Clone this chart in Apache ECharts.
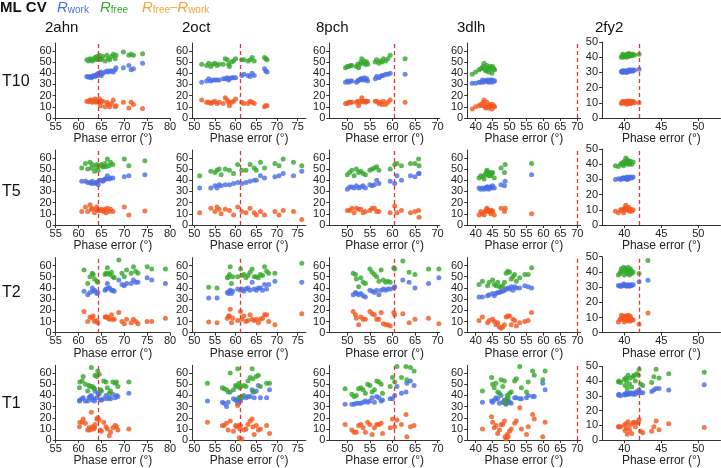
<!DOCTYPE html>
<html><head><meta charset="utf-8">
<script src="https://cdn.jsdelivr.net/npm/echarts@6/dist/echarts.min.js"></script>
<style>html,body{margin:0;padding:0;background:#fff}#c{width:721px;height:468px}</style>
</head><body><div id="c"></div><script>
// ---------- data ----------
const columns = ['2ahn', '2oct', '8pch', '3dlh', '2fy2'];
const rows = ['T10', 'T5', 'T2', 'T1'];
const xTickLabels = [[55,60,65,70,75,80],[50,55,60,65,70,75],[50,55,60,65,70],[40,45,50,55,60,65,70],[40,45,50]];
const xRanges = [[55,80],[49.5,77],[46,70.5],[37.5,71],[37,53]];
const yTickMain = [0,10,20,30,40,50,60];
const yTickFy2 = [0,10,20,30,40,50];
const refLine = [64.2, 61.2, 60.3, 70, 42];
// each point: [phase error, Rwork, Rfree, Rfree-Rwork]
const t10_2ahn = [[61.8,37,52,15],[62.2,36.5,51,14.5],[62.5,37,53,16],[62.8,36,52,16],[63.0,37,51,14],[63.3,38,53,15],[63.6,37,54,17],[63.8,38,52,14],[64.0,39,55,16],[64.2,38,53,15],[64.4,40,54,14],[64.6,39,56,17],[64.8,41,52,11],[65.0,38,53,15],[65.3,40,55,15],[65.8,41,51,10],[66.2,42,56,14],[66.5,41,53,12],[66.8,42,52,10],[67.2,42,55,13],[67.6,41,57,16],[68.0,43,53,10],[68.2,45,56,11],[69.8,45,59,14],[71.0,47,56,9],[71.5,43,57,14],[72.0,44,56,12],[74.0,49,57.5,8.5]];
const t10_2oct = [[51.8,32,48,16],[53.0,33,47,14],[53.5,35,49,14],[54.0,33,46,13],[54.5,34,48,14],[55.0,34,49,15],[55.5,34,47,13],[56.0,34,48,14],[57.0,35,48,13],[57.5,35,53,18],[58.0,36,52,16],[58.3,34,48,14],[58.5,35,46,11],[59.0,36,50,14],[59.5,36,51,15],[60.0,36,53,17],[61.5,38,52,14],[62.0,39,52,13],[63.0,38,51,13],[63.5,37,52,15],[64.0,40,54,14],[64.5,38,51,13],[67.0,44,54,10],[67.3,42,53,11],[67.6,41,52,11]];
const t10_8pch = [[49.6,32,45,13],[50.0,33,46,13],[50.3,32,46,14],[50.7,33,47,14],[51.0,33,47,14],[52.0,32,46,14],[52.3,33,48,15],[52.5,34,45,11],[52.8,34,48,14],[53.0,35,50,15],[53.2,35,53,18],[53.5,34,49,15],[53.8,36,51,15],[54.0,34,48,14],[54.3,35,50,15],[54.5,33,48,15],[56.2,35,50,15],[56.5,37,52,15],[57.0,36,49,13],[57.3,37,51,14],[57.7,38,50,12],[58.0,38,53,15],[58.5,39,51,12],[59.0,39,53,14],[59.5,40,56,16],[62.8,39,53,14]];
const t10_3dlh = [[39.0,31,39,8],[40.0,31,41,10],[41.0,32,43,11],[41.5,32,44,12],[42.0,34,45,11],[42.2,32,46,14],[42.5,33,49,16],[42.8,33,43,10],[43.0,33,42,9],[43.3,33,47,14],[43.5,34,45,11],[43.8,32,41,9],[44.0,33,43,10],[44.3,34,46,12],[44.6,33,44,11],[44.8,32,40,8],[45.0,34,46,12],[45.3,33,44,11],[45.6,33,43,10]];
const t10_2fy2 = [[39.6,30.5,40,9.5],[39.7,31,41,10],[39.8,30,40,10],[39.8,31,42,11],[39.9,31,41.5,10.5],[40.0,30.5,40.5,10],[40.1,31,41,10],[40.2,30.5,41,10.5],[40.3,31,40,9],[40.3,30,41,11],[40.4,31,42,11],[40.5,30.5,41.5,11],[40.6,31,40.5,9.5],[40.6,31.5,42.5,11],[40.7,31,42,11],[40.8,31.5,41,9.5],[40.9,31,42,11],[41.0,31,41,10],[41.1,31.5,41.5,10],[41.2,31,42,11],[41.4,31.5,41.5,10],[42.0,32,42,10]];
const t5_2ahn = [[60.7,39,51,12],[61.5,39,55,16],[62.0,38,50,12],[62.5,38,56,18],[62.8,37,51,14],[63.0,39,54,15],[63.5,37,48,11],[63.8,38,52,14],[64.0,38,54,16],[64.3,36,49,13],[64.5,40,53,13],[65.0,40,54,14],[65.3,39,52,13],[65.5,40,52,12],[65.8,41,55,14],[66.0,41,52,11],[66.3,44,59,15],[66.7,41,53,12],[67.0,42,56,14],[67.5,42,54,12],[70.0,43,59,16],[71.0,44,53,9],[74.5,45,57.5,12.5]];
const t5_2oct = [[51.3,33,44,11],[54.0,33,48,15],[55.0,35,47,12],[55.5,33,49,16],[56.0,36,50,14],[56.5,35,45,10],[57.5,36,50,14],[58.5,36,49,13],[59.5,37,46,9],[60.5,38,54,16],[61.5,37,49,12],[62.5,38,49,11],[63.5,39,54,15],[64.5,40,51,11],[65.0,40,49,9],[66.0,44,56,12],[67.0,42,51,9],[69.5,43,55,12],[70.5,44,53,9],[71.5,46,59,13],[74.0,44,56,12],[76.0,48,53,5]];
const t5_8pch = [[50.0,32,45,13],[50.5,34,47,13],[51.0,34,49,15],[51.5,33,44,11],[52.0,35,50,15],[52.5,33,47,14],[53.0,34,48,14],[53.5,35,46,11],[54.0,33,45,12],[55.0,36,49,13],[55.5,35,50,15],[56.0,36,51,15],[56.5,40,52,12],[57.0,37,49,12],[59.5,39,50,11],[60.5,37,54,17],[61.0,44,55,11],[62.0,40,53,13],[64.0,44,55,11],[65.0,43,55,12],[65.8,46,59,13],[65.9,46,53,7]];
const t5_3dlh = [[41.0,33,42,9],[41.5,32,44,12],[42.0,33,43,10],[42.5,32,41,9],[42.8,33,45,12],[43.0,33,46,13],[43.3,34,49,15],[43.5,34,48,14],[43.8,32,44,12],[44.0,33,45,12],[44.3,34,47,13],[44.5,34,44,10],[44.8,33,46,13],[45.0,35,47,12],[45.5,33,42,9],[47.5,36,51,15],[48.5,35,47,12],[48.7,39,54,15],[56.5,45,55,10]];
const t5_2fy2 = [[38.8,30,39,9],[39.2,30.5,38.5,8],[39.5,30,40,10],[39.7,31,41,10],[39.8,30.5,40,9.5],[39.9,31,39,8],[40.0,31,42,11],[40.1,30.5,41,10.5],[40.2,31,44,13],[40.3,31,41,10],[40.4,31.5,43,11.5],[40.4,30,40,10],[40.5,31,41,10],[40.6,30.5,42,11.5],[40.7,31,40,9],[40.8,31.5,42,10.5],[41.0,31,40,9],[41.2,31.5,41.5,10]];
const t2_2ahn = [[61.2,37,56,19],[62.0,34,44,10],[62.5,36,50,14],[63.0,40,53,13],[63.2,37,52,15],[63.5,38,48,10],[64.0,35,46,11],[64.2,36,45,9],[65.8,38,52,14],[66.0,39,53,14],[66.3,44,58,14],[66.5,40,53,13],[66.8,40,52,12],[67.2,38,54,16],[67.5,38,50,12],[67.8,37,49,12],[68.8,47,65,18],[69.5,43,53,10],[70.0,42,50,8],[70.5,44,56,12],[71.5,44,53,9],[72.0,47,59,12],[72.5,45,55,10],[73.0,45,53,8],[75.0,49,59,10],[76.0,47,57,10],[79.0,44,57,13]];
const t2_2oct = [[53.5,31,40.5,9.5],[55.5,31,40,9],[58.0,36,49,13],[58.3,35,50,15],[58.5,37,52,15],[58.7,38,59,21],[59.0,35,44,9],[59.3,37,50,13],[60.5,39,50,11],[61.2,38,57,19],[61.5,39,51,12],[62.0,37,52,15],[62.5,39,49,10],[63.0,40,51,11],[63.5,38,54,16],[64.0,45,57,12],[64.5,39,50,11],[65.0,38,50,12],[65.5,40,49,9],[66.0,40,52,12],[66.5,38,51,13],[67.0,43,59,16],[67.5,39,55,16],[68.0,43,53,10],[69.5,46,53,7],[76.0,45,62,17]];
const t2_8pch = [[51.3,34,53,19],[51.8,36,52,16],[52.0,35,48,13],[52.5,34,41,7],[53.0,35,49,14],[53.5,33,45,12],[54.0,32,44,12],[55.0,38,57,19],[55.5,37,54,17],[56.0,36,52,16],[56.5,38,50,12],[57.0,34,46,12],[57.5,38,56,18],[58.0,39,47,8],[58.5,38,45,7],[59.0,39,46,7],[59.5,39,45,6],[60.3,40,58,18],[60.5,41,57,16],[62.3,47,64,17],[63.7,45,54,9],[65.0,40,52,12],[68.0,44,57,13],[70.3,49,57,8]];
const t2_3dlh = [[41.0,32,43,11],[42.0,32,46,14],[43.5,33,42,9],[44.0,34,45,11],[45.0,35,47,12],[45.5,33,43,10],[46.0,35,42,7],[46.5,36,45,9],[47.0,36,41,5],[47.5,37,41,4],[48.0,37,42,5],[48.5,38,45,7],[49.0,39,53,14],[49.5,40,55,15],[50.0,39,54,15],[50.5,41,48,7],[51.0,38,50,12],[51.5,41,52,11],[52.0,40,46,6],[53.0,40,49,9],[54.5,42,52,10],[55.5,41,52,11],[56.5,40,58,18]];
const t2_2fy2 = [[39.2,31,38,7],[39.4,30.5,39,8.5],[39.5,31,40,9],[39.6,30.5,42,11.5],[39.8,31,41,10],[39.9,32,43,11],[40.0,31,38,7],[40.1,31.5,40,8.5],[40.2,31,42,11],[40.3,30.5,41,10.5],[40.4,31,39,8],[40.5,31.5,43,11.5],[40.6,31,40,9],[40.7,30.5,38,7.5],[40.8,31,42,11],[40.9,31.5,41,9.5],[41.0,31,39,8],[41.2,31.5,40,8.5],[42.0,33.5,39,5.5],[43.2,34.5,47.5,13]];
const t1_2ahn = [[60.2,35,47,12],[60.3,36,52,16],[60.8,37,53,16],[61.0,38,57,19],[61.5,35,50,15],[62.0,35,44,9],[62.3,38,49,11],[62.5,39,48,9],[62.8,40,65,25],[63.0,36,48,12],[63.3,37,47,10],[63.5,35,46,11],[63.6,44,58,14],[64.0,38,57,19],[64.2,42,62,20],[64.5,41,59,18],[64.8,36,45,9],[65.0,36,44,8],[65.5,37,53,16],[66.0,40,52,12],[66.3,37,47,10],[66.7,38,42,4],[67.0,37,44,7],[67.5,41,52,11],[68.0,38,51,13],[68.3,40,52,12],[68.6,39,48,9],[71.0,42,52,10]];
const t1_2oct = [[53.2,35,51,16],[56.8,34,47,13],[57.2,33,46,13],[57.8,30,45,15],[58.2,34,43,9],[58.7,43,60,17],[59.5,37,45,8],[60.0,36,49,13],[60.2,36,48,12],[60.5,33,64,31],[60.8,38,51,13],[60.9,36,38,2],[61.0,37,47,10],[61.2,35,48,13],[61.5,38,39,1],[62.0,40,49,9],[62.5,38,48,10],[63.0,39,53,14],[63.5,39,56,17],[64.0,45,64,19],[64.2,43,55,12],[64.5,38,43,5],[65.0,44,57,13],[65.5,49,58,9],[66.0,38,48,10],[67.5,38,51,13],[68.2,45,51,6]];
const t1_8pch = [[49.5,32,46,14],[51.0,32,41,9],[51.5,32,39,7],[52.0,33,40,7],[52.5,33,46,13],[53.0,33,47,14],[53.5,34,45,11],[54.0,35,42,7],[54.5,34,50,16],[55.0,35,49,14],[55.5,38,43,5],[56.0,34,45,11],[56.5,39,53,14],[57.0,38,52,14],[57.5,35,50,15],[57.8,36,42,6],[59.5,37,48,11],[60.0,37,56,19],[60.5,40,52,12],[61.0,48,66,18],[62.0,42,56,14],[63.0,43,66,23],[63.2,51,54,3],[64.0,53,65,12],[64.8,49,62,13]];
const t1_3dlh = [[42.0,34,44,10],[44.7,35,56,21],[45.0,34,50,16],[45.5,36,47,11],[46.0,38,51,13],[46.5,37,43,6],[47.0,33,42,9],[47.5,40,54,14],[48.0,34,48,14],[48.5,36,53,17],[48.7,33,36,3],[49.0,32,33,1],[49.3,35,40,5],[49.6,35,38,3],[50.0,34,42,8],[50.5,33,43,10],[51.5,38,53,15],[52.0,38,55,17],[53.0,37,66,29],[53.5,37,47,10],[55.0,38,43,5],[55.5,40,52,12],[56.8,39,62,23],[57.3,39,58,19],[59.8,51,54,3],[60.5,45,62,16]];
const t1_2fy2 = [[39.2,30.5,39.5,9],[39.3,31,40,9],[39.5,30,39,9],[40.0,31,41,10],[40.1,30.5,37,6.5],[40.2,31,42,11],[40.3,32,40,8],[40.4,31,35,4],[40.5,31.5,44,12.5],[40.7,31,38,7],[40.8,32,42,10],[41.0,31.5,36,4.5],[41.2,31,43,12],[41.3,32,44,12],[41.5,31,40,9],[41.7,33,45,12],[41.9,32,44,12],[42.0,34,48,14],[42.2,32,38,6],[42.5,32,37,5],[43.7,33,39,6],[44.0,34,43,9],[44.3,35,48,13],[44.7,35,42,7],[46.0,34,45,11],[50.8,37.5,46,8.5]];
const panels = [
  [t10_2ahn, t10_2oct, t10_8pch, t10_3dlh, t10_2fy2],
  [t5_2ahn, t5_2oct, t5_8pch, t5_3dlh, t5_2fy2],
  [t2_2ahn, t2_2oct, t2_8pch, t2_3dlh, t2_2fy2],
  [t1_2ahn, t1_2oct, t1_8pch, t1_3dlh, t1_2fy2]
];

// ---------- layout / style ----------
const FONT = '"Liberation Sans", Arial, Helvetica, sans-serif';
const C_WORK = '#4a6ee6', C_FREE = '#34a82a', C_DIFF = '#f4571f', C_REF = '#e0353b', C_LEG_DIFF = '#f6a43a';
const colLayout = [{left:55.7,width:114.3},{left:192.2,width:113.7},{left:329.3,width:110.5},{left:467.2,width:113.5},{left:602.1,width:118.4}];
const rowZero = [118, 225, 332.7, 442.3];
const rowHeight = [75, 75, 75, 77];
const colTitleX = [45, 182, 316, 457, 595];
const rowLabelY = [82, 192, 293, 404];

const grids = [], xAxes = [], yAxes = [], series = [];
rows.forEach((r, ri) => {
  columns.forEach((c, ci) => {
    const idx = grids.length;
    const fy2 = ci === 4;
    const h = fy2 ? 76 : rowHeight[ri];
    grids.push({left: colLayout[ci].left, width: colLayout[ci].width, top: rowZero[ri] - h, height: h});
    xAxes.push({
      gridIndex: idx, type: 'value', min: xRanges[ci][0], max: xRanges[ci][1],
      axisLine: {show: true, onZero: false, lineStyle: {color: '#333', width: 1}},
      axisTick: {show: true, length: 3, customValues: xTickLabels[ci], lineStyle: {color: '#333'}},
      axisLabel: {customValues: xTickLabels[ci], fontSize: 11, color: '#222', margin: 3, fontFamily: FONT},
      splitLine: {show: false},
      name: 'Phase error (°)', nameLocation: 'middle', nameGap: 13,
      nameTextStyle: {fontSize: 12, color: '#222', fontFamily: FONT}
    });
    const yt = fy2 ? yTickFy2 : yTickMain;
    yAxes.push({
      gridIndex: idx, type: 'value', min: 0, max: fy2 ? 50 : 67,
      axisLine: {show: true, lineStyle: {color: '#333', width: 1}},
      axisTick: {show: true, length: 3, customValues: yt, lineStyle: {color: '#333'}},
      axisLabel: {customValues: yt, fontSize: 11, color: '#222', margin: 4, fontFamily: FONT},
      splitLine: {show: false}
    });
    const d = panels[ri][ci];
    const base = {type: 'scatter', xAxisIndex: idx, yAxisIndex: idx, symbol: 'circle', symbolSize: 5, silent: true};
    series.push(Object.assign({}, base, {
      data: d.map(p => [p[0], p[1]]), itemStyle: {color: C_WORK},
      markLine: {silent: true, symbol: 'none', label: {show: false},
        lineStyle: {color: C_REF, type: [4, 3], width: 1.3},
        data: [{xAxis: refLine[ci]}]}
    }));
    series.push(Object.assign({}, base, {data: d.map(p => [p[0], p[2]]), itemStyle: {color: C_FREE}}));
    series.push(Object.assign({}, base, {data: d.map(p => [p[0], p[3]]), itemStyle: {color: C_DIFF}}));
  });
});

function legendItem(x, text, color) {
  return {type: 'text', x: x, y: 0, style: {
    text: text, verticalAlign: 'top',
    rich: {
      r: {fontSize: 15, fontStyle: 'italic', fontFamily: FONT, fill: color, lineHeight: 15},
      s: {fontSize: 10, fontFamily: FONT, fill: color, lineHeight: 11, verticalAlign: 'bottom'},
      d: {fontSize: 13, fontFamily: FONT, fill: color, lineHeight: 15}
    }}};
}
const graphic = [
  {type: 'text', x: 0, y: 8, style: {text: 'ML CV', fontSize: 15, fontWeight: 'bold', fontFamily: FONT, fill: '#111', verticalAlign: 'middle'}},
  legendItem(57, '{r|R}{s|work}', C_WORK),
  legendItem(100, '{r|R}{s|free}', C_FREE),
  legendItem(142, '{r|R}{s|free}{d|–}{r|R}{s|work}', C_LEG_DIFF)
];
columns.forEach((c, ci) => graphic.push({type: 'text', x: colTitleX[ci], y: 28,
  style: {text: c, fontSize: 15, fontFamily: FONT, fill: '#111', verticalAlign: 'middle'}}));
rows.forEach((r, ri) => graphic.push({type: 'text', x: 2, y: rowLabelY[ri],
  style: {text: r, fontSize: 16, fontFamily: FONT, fill: '#111', verticalAlign: 'middle'}}));

const chart = echarts.init(document.getElementById('c'), null, {renderer: 'canvas'});
chart.setOption({
  animation: false, backgroundColor: '#fff',
  textStyle: {fontFamily: FONT},
  grid: grids, xAxis: xAxes, yAxis: yAxes, series: series, graphic: graphic
});
</script></body></html>
